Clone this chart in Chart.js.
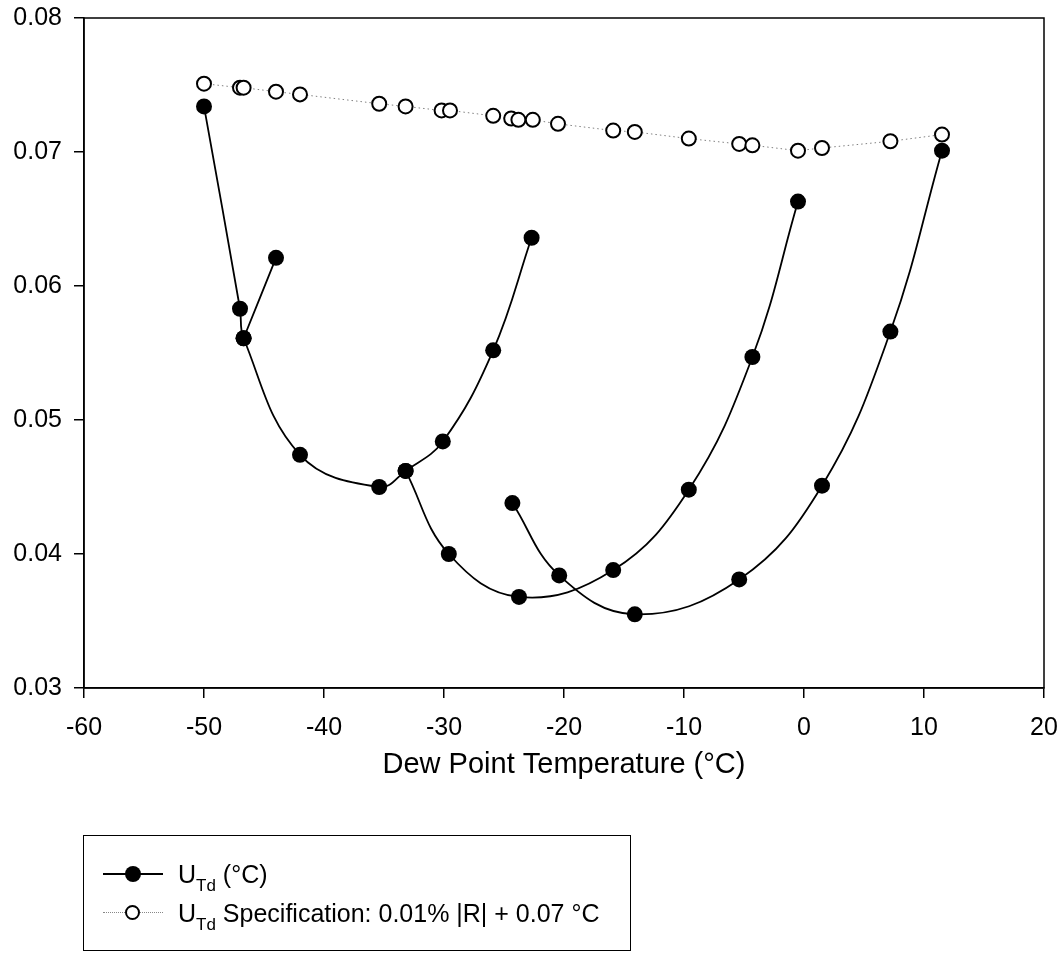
<!DOCTYPE html>
<html lang="en">
<head>
    <meta charset="UTF-8">
    <title>Dew Point Uncertainty</title>
    <script src="https://cdn.jsdelivr.net/npm/chart.js"></script>
    <style>
        * {
            margin: 0;
            padding: 0;
            box-sizing: border-box;
        }

        body {
            background: #fff;
            font-family: "Liberation Sans", Arial, sans-serif;
        }

        .wrap {
            position: relative;
            width: 1063px;
            height: 954px;
        }

        #legend {
            position: absolute;
            left: 83px;
            top: 835px;
            width: 548px;
            height: 116px;
            border: 1px solid #000;
            font-size: 25px;
            color: #000;
        }

        .row {
            position: absolute;
            left: 0;
            height: 30px;
            display: flex;
            align-items: center;
            white-space: nowrap;
        }

        .sample {
            position: relative;
            width: 60px;
            height: 30px;
            margin-left: 19px;
            margin-right: 15px;
        }

        .sample .line {
            position: absolute;
            left: 0;
            right: 0;
            top: 14px;
            border-top: 2px solid #000;
        }

        .sample .line.dot {
            border-top: 1px dotted #888;
        }

        .sample .mark {
            position: absolute;
            left: 22px;
            top: 7px;
            width: 16px;
            height: 16px;
            border-radius: 50%;
            background: #000;
        }

        .sample .mark.open {
            background: #fff;
            border: 2px solid #000;
            width: 15px;
            height: 15px;
        }

        sub {
            font-size: 17px;
            vertical-align: -8px;
            line-height: 0;
        }
    </style>
</head>
<body>
    <div class="wrap">
        <canvas id="chart" width="1063" height="954"></canvas>
        <div id="legend">
            <div class="row" style="top: 23px;">
                <div class="sample"><div class="line"></div><div class="mark"></div></div>
                <span>U<sub>Td</sub> (°C)</span>
            </div>
            <div class="row" style="top: 62px;">
                <div class="sample"><div class="line dot"></div><div class="mark open"></div></div>
                <span>U<sub>Td</sub> Specification: 0.01% |R| + 0.07 °C</span>
            </div>
        </div>
    </div>
    <script>
        // measured uncertainty, one array pair per curve
        const tdA = [-50, -47, -46.7, -42, -35.4, -33.2, -30.1, -25.9, -22.7];
        const uA = [0.0734, 0.0583, 0.0561, 0.0474, 0.0450, 0.0462, 0.0484, 0.0552, 0.0636];
        const tdB = [-44, -46.7];
        const uB = [0.0621, 0.0561];
        const tdC = [-33.2, -29.6, -23.75, -15.9, -9.6, -4.3, -0.5];
        const uC = [0.0462, 0.0400, 0.0368, 0.0388, 0.0448, 0.0547, 0.0663];
        const tdD = [-24.3, -20.4, -14.1, -5.4, 1.5, 7.2, 11.5];
        const uD = [0.0438, 0.0384, 0.0355, 0.0381, 0.0451, 0.0566, 0.0701];

        // specification
        const tdSpec = [-50, -47, -46.7, -44, -42, -35.4, -33.2, -30.2, -29.5, -25.9, -24.4, -23.8, -22.6, -20.5, -15.9, -14.1, -9.6, -5.4, -4.3, -0.5, 1.5, 7.2, 11.5];
        const uSpec = [0.0751, 0.0748, 0.0748, 0.0745, 0.0743, 0.0736, 0.0734, 0.0731, 0.0731, 0.0727, 0.0725, 0.0724, 0.0724, 0.0721, 0.0716, 0.0715, 0.0710, 0.0706, 0.0705, 0.0701, 0.0703, 0.0708, 0.0713];

        const xTicks = [-60, -50, -40, -30, -20, -10, 0, 10, 20];
        const yTicks = [0.03, 0.04, 0.05, 0.06, 0.07, 0.08];

        const toPoints = (xs, ys) => xs.map((x, i) => ({ x: x, y: ys[i] }));

        const measured = (xs, ys) => ({
            data: toPoints(xs, ys),
            showLine: true,
            borderColor: "#000",
            borderWidth: 1.8,
            tension: 0.4,
            pointRadius: 8,
            pointBackgroundColor: "#000",
            pointBorderColor: "#000",
            pointBorderWidth: 0
        });

        const FONT = "'Liberation Sans', Arial, sans-serif";

        // caixa completa em volta da área do gráfico
        const frame = {
            id: "frame",
            afterDraw(chart) {
                const { ctx, chartArea: a } = chart;
                ctx.save();
                ctx.strokeStyle = "#000";
                ctx.lineWidth = 1.5;
                ctx.strokeRect(a.left, a.top, a.right - a.left, a.bottom - a.top);
                ctx.restore();
            }
        };

        new Chart(document.getElementById("chart"), {
            type: "scatter",
            data: {
                datasets: [
                    {
                        data: toPoints(tdSpec, uSpec),
                        showLine: true,
                        borderColor: "#808080",
                        borderWidth: 1,
                        borderDash: [1.5, 3],
                        tension: 0,
                        pointRadius: 7,
                        pointBackgroundColor: "#fff",
                        pointBorderColor: "#000",
                        pointBorderWidth: 2
                    },
                    measured(tdA, uA),
                    measured(tdB, uB),
                    measured(tdC, uC),
                    measured(tdD, uD)
                ]
            },
            options: {
                responsive: false,
                animation: false,
                layout: { padding: { left: 0, top: 18, right: 19, bottom: 168 } },
                plugins: {
                    legend: { display: false },
                    tooltip: { enabled: false }
                },
                scales: {
                    x: {
                        type: "linear",
                        min: -60,
                        max: 20,
                        afterFit: (s) => {
                            s.height = 98;
                            s.paddingLeft = 0;
                            s.paddingRight = 0;
                        },
                        afterBuildTicks: (s) => { s.ticks = xTicks.map(v => ({ value: v })); },
                        grid: { drawOnChartArea: false, drawTicks: true, tickLength: 10, color: "#000", lineWidth: 1.5 },
                        border: { color: "#000", width: 1.5 },
                        ticks: { color: "#000", padding: 15, font: { family: FONT, size: 25 }, maxRotation: 0 },
                        title: {
                            display: true,
                            text: "Dew Point Temperature (°C)",
                            color: "#000",
                            font: { family: FONT, size: 29 }
                        }
                    },
                    y: {
                        type: "linear",
                        min: 0.03,
                        max: 0.08,
                        afterFit: (s) => {
                            s.width = 84;
                            s.paddingTop = 0;
                            s.paddingBottom = 0;
                        },
                        afterBuildTicks: (s) => { s.ticks = yTicks.map(v => ({ value: v })); },
                        grid: { drawOnChartArea: false, drawTicks: true, tickLength: 10, color: "#000", lineWidth: 1.5 },
                        border: { color: "#000", width: 1.5 },
                        ticks: {
                            color: "#000",
                            padding: 12,
                            font: { family: FONT, size: 25 },
                            callback: (v) => v.toFixed(2)
                        }
                    }
                }
            },
            plugins: [frame]
        });
    </script>
</body>
</html>
